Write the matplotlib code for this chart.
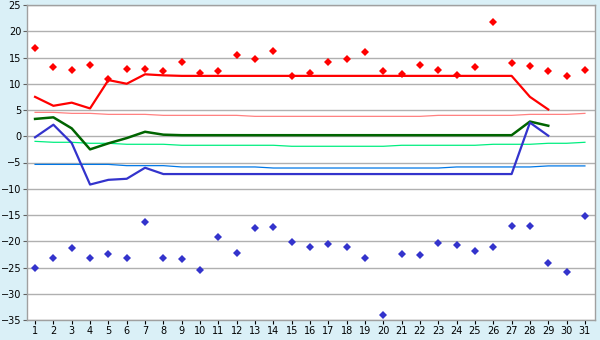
import matplotlib
matplotlib.use("Agg")
import matplotlib.pyplot as plt

days = list(range(1, 32))

max_temp = [16.9, 13.1, 12.7, 13.5, 10.9, 12.9, 12.9, 12.4, 14.1, 12.0,
            12.4, 15.4, 14.8, 16.2, 11.4, 12.0, 14.1, 14.8, 16.0, 12.4,
            11.8, 13.5, 12.6, 11.6, 13.1, 21.7, 13.9, 13.3, 12.4, 11.4, 12.6]
min_temp = [-25.0, -23.1, -21.2, -23.1, -22.5, -23.1, -16.4, -23.1, -23.3, -25.5,
            -19.25, -22.3, -17.5, -17.35, -20.2, -21.0, -20.6, -21.0, -23.1, -34.1,
            -22.5, -22.7, -20.4, -20.8, -21.9, -21.0, -17.0, -17.0, -24.2, -25.9, -15.25]

line_days = list(range(1, 30))
avg_max = [7.5, 5.8, 6.4, 5.3, 10.7, 10.0, 11.8, 11.6] + [11.5] * 19 + [7.5, 5.1]
avg_mean = [3.3, 3.6, 1.5, -2.5, -1.35, -0.35, 0.85, 0.3] + [0.2] * 19 + [2.8, 2.0]
avg_min = [-0.2, 2.2, -1.3, -9.2, -8.3, -8.1, -6.0, -7.2] + [-7.2] * 19 + [2.6, 0.1]

norm_max = [4.55, 4.55, 4.36, 4.36, 4.17, 4.17, 4.17, 3.98, 3.98, 3.98,
            3.98, 3.98, 3.79, 3.79, 3.79, 3.79, 3.79, 3.79, 3.79, 3.79,
            3.79, 3.79, 3.98, 3.98, 3.98, 3.98, 3.98, 4.17, 4.17, 4.17, 4.36]
norm_mean = [-0.97, -1.15, -1.15, -1.34, -1.34, -1.53, -1.53, -1.53, -1.72, -1.72,
             -1.72, -1.72, -1.72, -1.72, -1.91, -1.91, -1.91, -1.91, -1.91, -1.91,
             -1.72, -1.72, -1.72, -1.72, -1.72, -1.53, -1.53, -1.53, -1.34, -1.34, -1.15]
norm_min = [-5.36, -5.36, -5.36, -5.36, -5.36, -5.6, -5.6, -5.6, -5.85, -5.85,
            -5.85, -5.85, -5.85, -6.05, -6.05, -6.05, -6.05, -6.05, -6.05, -6.05,
            -6.05, -6.05, -6.05, -5.85, -5.85, -5.85, -5.85, -5.85, -5.65, -5.65, -5.65]

yticks = list(range(-35, 30, 5))

fig = plt.figure(figsize=(6, 3.4), dpi=100)
bg = "#daf0f7"
fig.patch.set_facecolor(bg)
ax = fig.add_axes([27/600, 1 - 320/340, (595 - 27)/600, (320 - 5)/340])
ax.set_facecolor("white")

ax.set_xlim(0.56, 31.55)
ax.set_ylim(-35, 25)
ax.set_yticks(yticks)
ax.set_xticks(days)
ax.yaxis.grid(True, color="#b0b0b0", linewidth=1)
ax.set_axisbelow(True)

ax.plot(days, norm_max, color="#ff8080", linewidth=0.9)
ax.plot(days, norm_mean, color="#00ee80", linewidth=0.9)
ax.plot(days, norm_min, color="#0077e6", linewidth=0.9)

ax.plot(line_days, avg_max, color="#ff0000", linewidth=1.6)
ax.plot(line_days, avg_mean, color="#006400", linewidth=1.8)
ax.plot(line_days, avg_min, color="#3333cc", linewidth=1.6)

ax.plot(days, max_temp, linestyle="none", marker="D", markersize=3.6,
        color="#ff0000", markeredgewidth=0)
ax.plot(days, min_temp, linestyle="none", marker="D", markersize=3.6,
        color="#3333cc", markeredgewidth=0)

for s in ax.spines.values():
    s.set_color("#a0a0a0")
    s.set_linewidth(1)
ax.tick_params(axis="both", labelsize=7, colors="black", length=3,
               width=0.8, pad=1.2)
ax.tick_params(axis="y", color="#606060")
ax.tick_params(axis="x", color="black")
ax.set_yticklabels([str(v).replace("-", "\u2212") for v in yticks])

fig.savefig("out.png", dpi=100, facecolor=bg)
